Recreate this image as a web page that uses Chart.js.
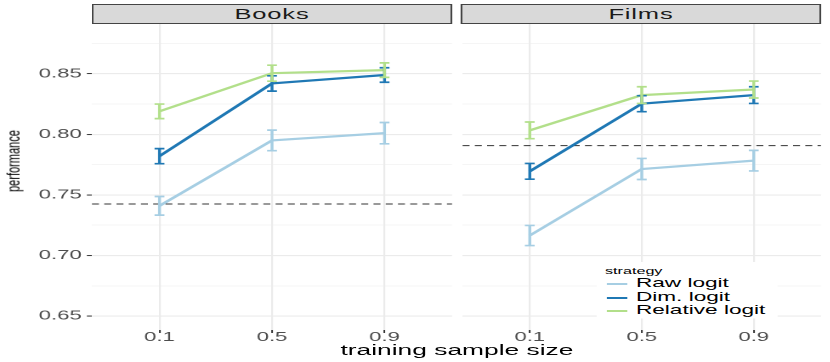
<!DOCTYPE html>
<html>
<head>
<meta charset="utf-8">
<script src="https://cdn.jsdelivr.net/npm/chart.js@4.4.1/dist/chart.umd.min.js"></script>
<style>
	html, body { margin: 0; padding: 0; background: #fff; overflow: hidden; }
	/* the reference is stretched sideways, so the whole figure is drawn narrow and scaled */
	#stage { position: absolute; left: 0; top: 0; width: 488.2px; height: 362px; transform: scaleX(1.7); transform-origin: 0 0; font-family: 'Liberation Sans', Arial, sans-serif; }
	.panel { position: absolute; top: 0; height: 362px; }
	.strip { position: absolute; top: 4px; height: 19.5px; box-sizing: border-box; background: #d9d9d9; border: 1px solid #444; display: flex; align-items: center; justify-content: center; font-size: 15px; line-height: 15px; letter-spacing: 0.5px; color: #1a1a1a; }
	#ytitle { position: absolute; left: 8.2px; top: 160.5px; font-size: 11px; line-height: 11px; white-space: nowrap; color: #000; transform: translate(-50%, -50%) rotate(-90deg); }
	#xtitle { position: absolute; left: 0; width: 537.6px; top: 341.9px; text-align: center; font-size: 15.5px; line-height: 15.5px; color: #000; }
	#legend { position: absolute; left: 351.2px; top: 262px; width: 105.9px; height: 56px; background: #fff; }
	#legend .title { position: absolute; left: 4.7px; top: 3.7px; font-size: 9.5px; line-height: 9.5px; color: #000; }
	#legend .key { position: absolute; left: 5.9px; width: 12.4px; height: 2px; }
	#legend .label { position: absolute; left: 22.9px; font-size: 13.3px; line-height: 13.3px; white-space: nowrap; color: #000; }
</style>
</head>
<body>
<div id="stage">
	<div class="panel" style="left:0; width:267px;"><canvas id="booksChart"></canvas></div>
	<div class="panel" style="left:270.6px; width:213px;"><canvas id="filmsChart"></canvas></div>
	<div class="strip" style="left:54.1px; width:211.8px;">Books</div>
	<div class="strip" style="left:270.6px; width:212.9px;">Films</div>
	<div id="ytitle">performance</div>
	<div id="xtitle">training sample size</div>
	<div id="legend"><div class="title">strategy</div></div>
</div>
<script>
// categories on the x axis
const categories = ['0.1', '0.5', '0.9'];
const seriesNames = ['Raw logit', 'Dim. logit', 'Relative logit'];
const seriesColors = ['#a6cee3', '#1f78b4', '#b2df8a'];

// Books panel
const booksRaw = [0.741, 0.795, 0.801];
const booksRawErr = [0.0077, 0.0085, 0.0088];
const booksDim = [0.782, 0.842, 0.849];
const booksDimErr = [0.0062, 0.0063, 0.0060];
const booksRel = [0.819, 0.8505, 0.853];
const booksRelErr = [0.0060, 0.0066, 0.0060];
const booksBaseline = 0.7425;

// Films panel
const filmsRaw = [0.7165, 0.7714, 0.7783];
const filmsRawErr = [0.0083, 0.0087, 0.0085];
const filmsDim = [0.7695, 0.8253, 0.8324];
const filmsDimErr = [0.0065, 0.0066, 0.0069];
const filmsRel = [0.8033, 0.8324, 0.837];
const filmsRelErr = [0.0069, 0.0069, 0.0070];
const filmsBaseline = 0.7907;

// y axis ticks
const yMajorTicks = [0.65, 0.70, 0.75, 0.80, 0.85];
const yMinorTicks = [0.675, 0.725, 0.775, 0.825, 0.875];
const yMin = 0.6385;
const yMax = 0.8915;

const fontFamily = "'Liberation Sans', Arial, sans-serif";

// draws the dashed baseline under the lines
const refLinePlugin = {
	id: 'refLine',
	beforeDatasetsDraw(chart, args, opts) {
		const ctx = chart.ctx;
		const area = chart.chartArea;
		const y = chart.scales.y.getPixelForValue(opts.value);
		ctx.save();
		ctx.strokeStyle = '#333';
		ctx.lineWidth = 1.1;
		ctx.setLineDash([4.1, 3.1]);
		ctx.beginPath();
		ctx.moveTo(area.left, y);
		ctx.lineTo(area.right, y);
		ctx.stroke();
		ctx.restore();
	}
};

// error bars on top of the lines
const errorBarPlugin = {
	id: 'errorBars',
	afterDatasetsDraw(chart) {
		const ctx = chart.ctx;
		const xs = chart.scales.x;
		const ys = chart.scales.y;
		const cap = 2.9;
		chart.data.datasets.forEach(ds => {
			ctx.save();
			ctx.strokeStyle = ds.borderColor;
			ctx.lineWidth = 1.7;
			ds.data.forEach((p, i) => {
				const px = xs.getPixelForValue(p.x);
				const top = ys.getPixelForValue(p.y + ds.errors[i]);
				const bot = ys.getPixelForValue(p.y - ds.errors[i]);
				ctx.beginPath();
				ctx.moveTo(px, top);
				ctx.lineTo(px, bot);
				ctx.moveTo(px - cap, top);
				ctx.lineTo(px + cap, top);
				ctx.moveTo(px - cap, bot);
				ctx.lineTo(px + cap, bot);
				ctx.stroke();
			});
			ctx.restore();
		});
	}
};

function isMajor(v) {
	return yMajorTicks.includes(v);
}

function makePanel(canvasId, values, errors, baseline, showY, yWidth, padRight) {
	const datasets = values.map((vals, s) => ({
		label: seriesNames[s],
		data: vals.map((v, i) => ({ x: i, y: v })),
		errors: errors[s],
		borderColor: seriesColors[s],
		backgroundColor: seriesColors[s],
		borderWidth: 2.2,
		pointRadius: 0,
		tension: 0,
		order: values.length - 1 - s
	}));

	return new Chart(document.getElementById(canvasId), {
		type: 'line',
		data: { datasets: datasets },
		plugins: [refLinePlugin, errorBarPlugin],
		options: {
			responsive: true,
			maintainAspectRatio: false,
			animation: false,
			devicePixelRatio: 2,
			layout: { padding: { top: 23.5, right: padRight, bottom: 0, left: 0 } },
			plugins: {
				legend: { display: false },
				tooltip: { enabled: false },
				refLine: { value: baseline }
			},
			scales: {
				x: {
					type: 'linear',
					min: -0.6,
					max: 2.6,
					afterBuildTicks: scale => { scale.ticks = categories.map((c, i) => ({ value: i })); },
					afterFit: scale => { scale.height = 32; },
					border: { display: false },
					grid: { color: '#ebebeb', lineWidth: 1.1, tickColor: '#333', tickLength: 3, tickWidth: 1 },
					ticks: {
						autoSkip: false,
						maxRotation: 0,
						padding: -2,
						color: '#4d4d4d',
						font: { family: fontFamily, size: 13, lineHeight: 1 },
						callback: v => categories[v]
					}
				},
				y: {
					type: 'linear',
					min: yMin,
					max: yMax,
					afterBuildTicks: scale => {
						scale.ticks = yMajorTicks.concat(yMinorTicks).sort((a, b) => a - b).map(v => ({ value: v }));
					},
					afterFit: scale => { scale.width = yWidth; },
					border: { display: false },
					grid: {
						color: '#ebebeb',
						lineWidth: c => (c.tick && isMajor(c.tick.value)) ? 1.1 : 0.6,
						drawTicks: showY,
						tickColor: c => (c.tick && isMajor(c.tick.value)) ? '#333' : 'rgba(0,0,0,0)',
						tickLength: 3,
						tickWidth: 1
					},
					ticks: {
						display: showY,
						autoSkip: false,
						padding: 3,
						color: '#4d4d4d',
						font: { family: fontFamily, size: 13, lineHeight: 1 },
						callback: v => isMajor(v) ? v.toFixed(2) : ''
					}
				}
			}
		}
	});
}

makePanel('booksChart',
	[booksRaw, booksDim, booksRel],
	[booksRawErr, booksDimErr, booksRelErr],
	booksBaseline, true, 54.1, 1.1);

makePanel('filmsChart',
	[filmsRaw, filmsDim, filmsRel],
	[filmsRawErr, filmsDimErr, filmsRelErr],
	filmsBaseline, false, 0, 0.1);

// legend inside the Films panel
const legendBox = document.getElementById('legend');
const legendCenters = [21, 34.7, 47.7];
seriesNames.forEach((name, s) => {
	const key = document.createElement('div');
	key.className = 'key';
	key.style.background = seriesColors[s];
	key.style.top = legendCenters[s] + 'px';
	legendBox.appendChild(key);

	const label = document.createElement('div');
	label.className = 'label';
	label.style.top = (legendCenters[s] - 6.65) + 'px';
	label.textContent = name;
	legendBox.appendChild(label);
});
</script>
</body>
</html>
